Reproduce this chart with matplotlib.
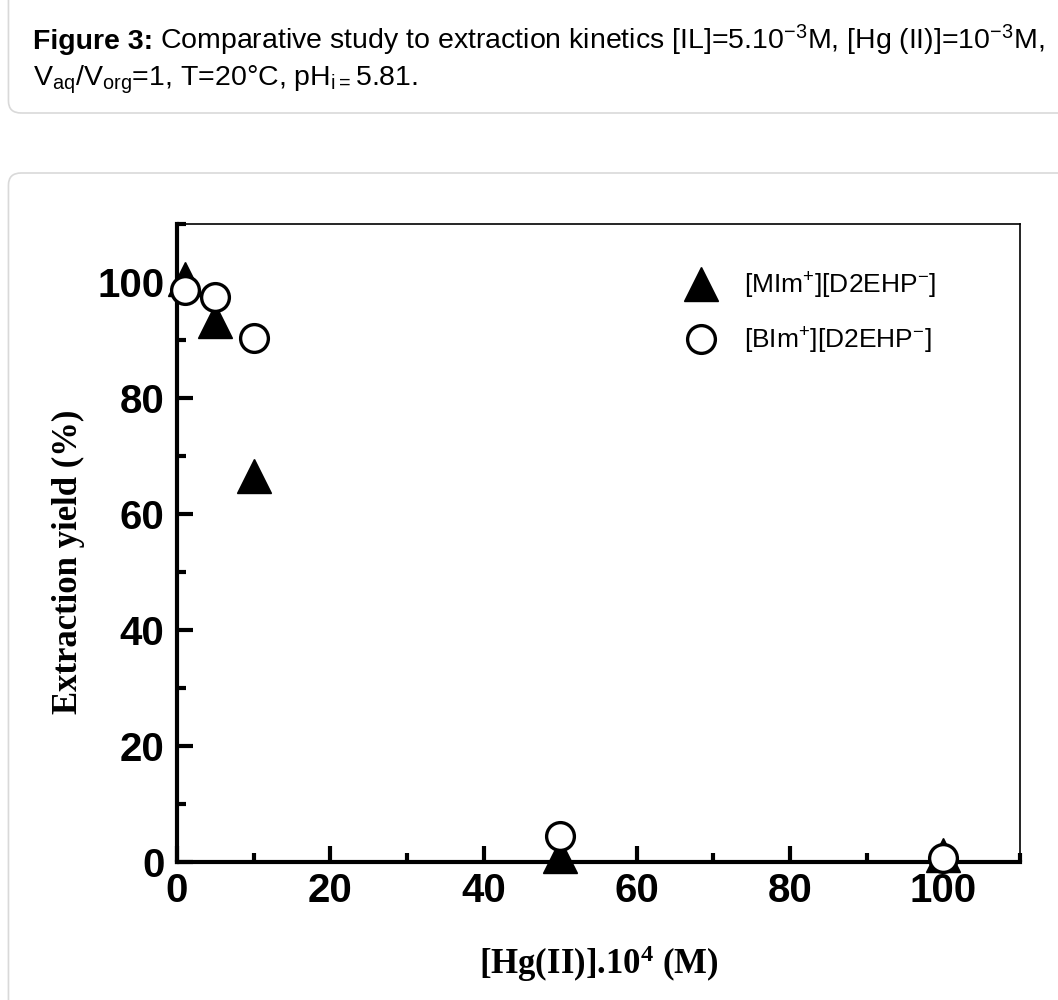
import matplotlib
matplotlib.use('Agg')
import matplotlib.pyplot as plt
from matplotlib.ticker import FixedLocator, MultipleLocator
from matplotlib.patches import FancyBboxPatch

# data
conc = [1, 5, 10, 50, 100]                      # [Hg(II)].10^4 (M)
yield_mim = [100.5, 93.3, 66.5, 1.0, 1.2]       # [MIm+][D2EHP-]
yield_bim = [98.6, 97.4, 90.3, 4.4, 0.7]        # [BIm+][D2EHP-]

label_mim = r'[MIm$\mathregular{^{+}}$][D2EHP$\mathregular{^{-}}$]'
label_bim = r'[BIm$\mathregular{^{+}}$][D2EHP$\mathregular{^{-}}$]'
x_ticks = [0, 20, 40, 60, 80, 100]
y_ticks = [0, 20, 40, 60, 80, 100]

sans = 'Liberation Sans'
serif = 'Liberation Serif'

fig = plt.figure(figsize=(10.58, 10.0), dpi=100)

# caption box and chart box (rounded, light grey)
for y0, h in [(0.887, 0.2), (-0.2, 1.027)]:
    fig.patches.append(FancyBboxPatch((0.008, y0), 1.2, h, boxstyle='round,pad=0,rounding_size=0.012',
                                      transform=fig.transFigure, fc='none', ec='#d9d9d9', lw=1.2,
                                      zorder=-1))

head = fig.text(0.031, 0.951, 'Figure 3:', fontsize=20.5, fontweight='bold', family=sans, va='baseline')
fig.add_artist(plt.Annotation(
    r'Comparative study to extraction kinetics [IL]=5.10$\mathregular{^{-3}}$M, '
    r'[Hg (II)]=10$\mathregular{^{-3}}$M,',
    xy=(1, 0.951), xycoords=(head, 'figure fraction'), xytext=(5, 0), textcoords='offset points',
    fontsize=20.5, family=sans, va='baseline'))
fig.text(0.031, 0.915, r'V$\mathregular{_{aq}}$/V$\mathregular{_{org}}$=1, T=20°C, pH$\mathregular{_{i=}}$5.81.',
         fontsize=20.5, family=sans, va='baseline')

ax = fig.add_axes([0.1673, 0.138, 0.9641 - 0.1673, 0.776 - 0.138])

ax.plot(conc, yield_mim, linestyle='none', marker='^', ms=24.5, mfc='black', mec='black',
        mew=1, clip_on=False, zorder=4, label=label_mim)
ax.plot(conc, yield_bim, linestyle='none', marker='o', ms=20, mfc='white', mec='black',
        mew=2.4, clip_on=False, zorder=5, label=label_bim)

ax.set_xlim(0, 110)
ax.set_ylim(0, 110)
ax.xaxis.set_major_locator(FixedLocator(x_ticks))
ax.xaxis.set_minor_locator(MultipleLocator(10))
ax.yaxis.set_major_locator(FixedLocator(y_ticks))
ax.yaxis.set_minor_locator(MultipleLocator(10))

ax.spines['left'].set_linewidth(3)
ax.spines['bottom'].set_linewidth(3)
ax.spines['top'].set_linewidth(1.2)
ax.spines['right'].set_linewidth(1.2)

ax.tick_params(which='both', direction='in', top=False, right=False, width=3)
ax.tick_params(which='major', length=11.5)
ax.tick_params(which='minor', length=6.5)
ax.tick_params(axis='x', which='major', pad=7)
ax.tick_params(axis='y', which='major', pad=9)
for lab in ax.get_xticklabels() + ax.get_yticklabels():
    lab.set_fontfamily(sans)
    lab.set_fontweight('bold')
    lab.set_fontsize(29)

ax.set_xlabel(r'[Hg(II)].10$\mathregular{^{4}}$ (M)', fontsize=25, fontweight='bold', family=serif)
ax.xaxis.set_label_coords(0.5, -0.128)
ax.set_ylabel('Extraction yield (%)', fontsize=25, fontweight='bold', family=serif)
ax.yaxis.set_label_coords(-0.109, 0.47)

leg = ax.legend(loc='upper left', bbox_to_anchor=(0.5876, 0.948), frameon=False, borderpad=0,
                handlelength=1.2, handletextpad=1.0, labelspacing=0.95,
                prop={'family': sans, 'size': 19})

fig.savefig('out.png', dpi=100)
plt.close(fig)
